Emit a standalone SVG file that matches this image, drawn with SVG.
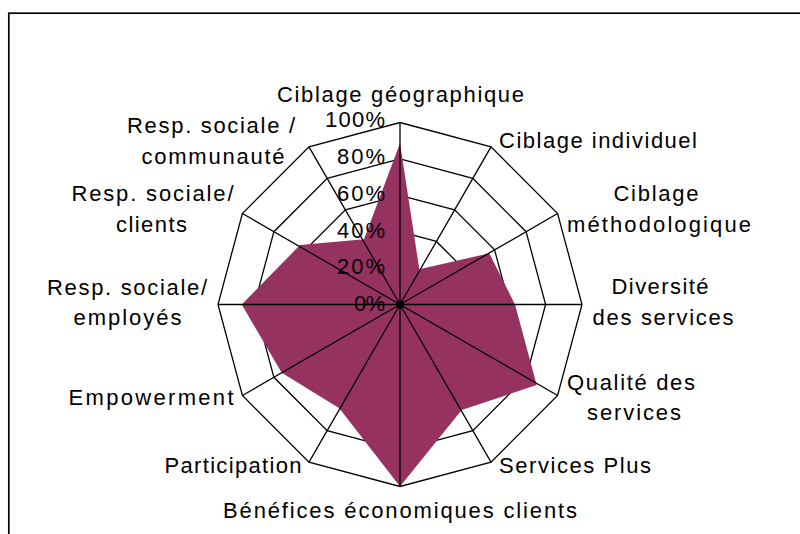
<svg xmlns="http://www.w3.org/2000/svg" width="800" height="534" viewBox="0 0 800 534">
<style>
  .ring { fill: none; stroke: #000; stroke-width: 1.3; stroke-linejoin: miter; }
  .spoke { stroke: #000; stroke-width: 1.3; }
  .lbl { font-family: "Liberation Sans", Arial, sans-serif; font-size: 22px; fill: #000; text-anchor: middle; }
  .pct { font-family: "Liberation Sans", Arial, sans-serif; font-size: 22px; fill: #000; text-anchor: end; }
</style>
<rect x="0" y="0" width="800" height="534" fill="#fff"/>
<rect x="8.8" y="13.2" width="820" height="540" fill="#fff" stroke="#000" stroke-width="1.7"/>

<g id="grid">
  <polygon class="ring" points="400,268.1 418.2,273 431.5,286.3 436.4,304.5 431.5,322.7 418.2,336 400,340.9 381.8,336 368.5,322.7 363.6,304.5 368.5,286.3 381.8,273"/>
  <polygon class="ring" points="400,231.7 436.4,241.45 463.05,268.1 472.8,304.5 463.05,340.9 436.4,367.55 400,377.3 363.6,367.55 336.95,340.9 327.2,304.5 336.95,268.1 363.6,241.45"/>
  <polygon class="ring" points="400,195.3 454.6,209.9 494.6,249.9 509.2,304.5 494.6,359.1 454.6,399.1 400,413.7 345.4,399.1 305.4,359.1 290.8,304.5 305.4,249.9 345.4,209.9"/>
  <polygon class="ring" points="400,158.9 472.8,178.4 526.1,231.7 545.6,304.5 526.1,377.3 472.8,430.6 400,450.1 327.2,430.6 273.9,377.3 254.4,304.5 273.9,231.7 327.2,178.4"/>
  <polygon class="ring" points="400,122.5 491,146.9 557.6,213.5 582,304.5 557.6,395.5 491,462.1 400,486.5 309,462.1 242.4,395.5 218,304.5 242.4,213.5 309,146.9"/>
</g>

<g id="series">
  <polygon points="400,143.3 419.3,269.3 489.3,253.3 515,304.5 536.7,385 461.7,410 400,486.5 339.3,408.3 281.7,372.7 241.7,304.5 300,245 364,239.3" fill="#96325F"/>
</g>

<g id="connectors">
  <line class="spoke" x1="400" y1="304.5" x2="400" y2="122.5"/>
  <line class="spoke" x1="400" y1="304.5" x2="491" y2="146.9"/>
  <line class="spoke" x1="400" y1="304.5" x2="557.6" y2="213.5"/>
  <line class="spoke" x1="400" y1="304.5" x2="582" y2="304.5"/>
  <line class="spoke" x1="400" y1="304.5" x2="557.6" y2="395.5"/>
  <line class="spoke" x1="400" y1="304.5" x2="491" y2="462.1"/>
  <line class="spoke" x1="400" y1="304.5" x2="400" y2="486.5"/>
  <line class="spoke" x1="400" y1="304.5" x2="309" y2="462.1"/>
  <line class="spoke" x1="400" y1="304.5" x2="242.4" y2="395.5"/>
  <line class="spoke" x1="400" y1="304.5" x2="218" y2="304.5"/>
  <line class="spoke" x1="400" y1="304.5" x2="242.4" y2="213.5"/>
  <line class="spoke" x1="400" y1="304.5" x2="309" y2="146.9"/>
  <circle cx="400" cy="304.5" r="4" fill="#000"/>
</g>

<g id="axis-values">
  <text class="pct" x="385" y="127" textLength="60" lengthAdjust="spacing">100%</text>
  <text class="pct" x="385" y="163.5" textLength="48" lengthAdjust="spacing">80%</text>
  <text class="pct" x="385" y="200.5" textLength="48" lengthAdjust="spacing">60%</text>
  <text class="pct" x="385" y="237.5" textLength="48" lengthAdjust="spacing">40%</text>
  <text class="pct" x="385" y="274" textLength="48" lengthAdjust="spacing">20%</text>
  <text class="pct" x="385" y="310.5" textLength="31" lengthAdjust="spacing">0%</text>
</g>

<g id="axis-geo"><text class="lbl" x="400.5" y="102" textLength="247" lengthAdjust="spacing">Ciblage géographique</text></g>
<g id="axis-indiv"><text class="lbl" x="598" y="148" textLength="198" lengthAdjust="spacing">Ciblage individuel</text></g>
<g id="axis-metho">
  <text class="lbl" x="656" y="201" textLength="85" lengthAdjust="spacing">Ciblage</text>
  <text class="lbl" x="659" y="232" textLength="184" lengthAdjust="spacing">méthodologique</text>
</g>
<g id="axis-diversite">
  <text class="lbl" x="660" y="294" textLength="97" lengthAdjust="spacing">Diversité</text>
  <text class="lbl" x="663" y="325" textLength="141" lengthAdjust="spacing">des services</text>
</g>
<g id="axis-qualite">
  <text class="lbl" x="631" y="389.5" textLength="128" lengthAdjust="spacing">Qualité des</text>
  <text class="lbl" x="634" y="420" textLength="94" lengthAdjust="spacing">services</text>
</g>
<g id="axis-plus"><text class="lbl" x="575" y="473" textLength="152" lengthAdjust="spacing">Services Plus</text></g>
<g id="axis-benefices"><text class="lbl" x="400" y="518" textLength="354" lengthAdjust="spacing">Bénéfices économiques clients</text></g>
<g id="axis-participation"><text class="lbl" x="233" y="473" textLength="137" lengthAdjust="spacing">Participation</text></g>
<g id="axis-empowerment"><text class="lbl" x="151" y="405" textLength="165" lengthAdjust="spacing">Empowerment</text></g>
<g id="axis-employes">
  <text class="lbl" x="127" y="295" textLength="160" lengthAdjust="spacing">Resp. sociale/</text>
  <text class="lbl" x="127.5" y="325" textLength="108" lengthAdjust="spacing">employés</text>
</g>
<g id="axis-clients">
  <text class="lbl" x="152.5" y="201" textLength="162" lengthAdjust="spacing">Resp. sociale/</text>
  <text class="lbl" x="151.5" y="232" textLength="71" lengthAdjust="spacing">clients</text>
</g>
<g id="axis-communaute">
  <text class="lbl" x="211" y="133" textLength="168" lengthAdjust="spacing">Resp. sociale /</text>
  <text class="lbl" x="213" y="164" textLength="143" lengthAdjust="spacing">communauté</text>
</g>
</svg>
